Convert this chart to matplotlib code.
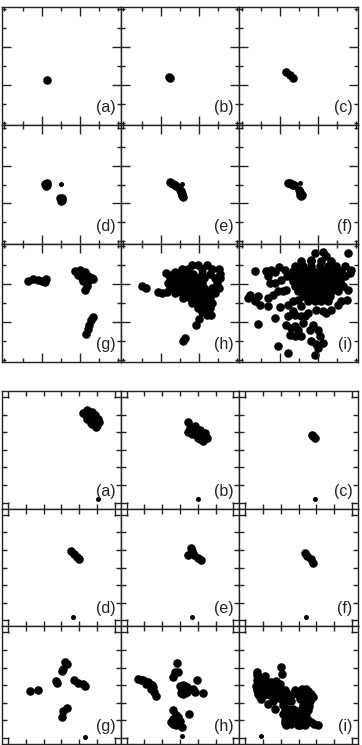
"""Two 3x3 sets of scatter snapshots, panels (a)-(i)

"""

import numpy as np
import matplotlib.pyplot as plt

plt.rcParams['font.family'] = ['Liberation Sans', 'DejaVu Sans']

labels = ['(a)', '(b)', '(c)', '(d)', '(e)', '(f)', '(g)', '(h)', '(i)']

# ---- upper set ----
up_a = [(-0.77, -0.73)]
up_b = [(-0.58, -0.56), (-0.54, -0.60)]
up_c = [(-0.68, -0.29), (-0.46, -0.46), (-0.28, -0.65)]
up_d = [(-0.85, 0.05), (-0.75, -0.05), (-0.82, -0.08), (-0.76, 0.07),
        (-0.05, -0.72), (0.05, -0.82), (0.02, -0.70), (-0.03, -0.85)]
up_e = [(-0.52, 0.14), (-0.35, 0.05), (-0.22, -0.09), (0.0, -0.27),
        (0.06, -0.39), (0.09, -0.48), (0.18, -0.65), (-0.45, 0.10),
        (-0.28, 0.0), (0.04, -0.33), (0.13, -0.55), (0.08, -0.58)]
up_f = [(-0.56, 0.10), (-0.39, 0.05), (-0.24, -0.04), (0.02, -0.30),
        (0.11, -0.48), (0.14, -0.62), (-0.48, 0.08), (-0.30, 0.0),
        (0.06, -0.40), (0.16, -0.55), (0.08, -0.55)]
up_g = [(-1.74, 1.14), (-1.47, 1.26), (-1.24, 1.23), (-1.03, 1.14),
        (-0.80, 1.26), (-0.86, 1.08),
        (0.73, 1.67), (0.99, 1.75), (1.25, 1.61), (1.43, 1.40), (1.69, 1.26),
        (1.16, 1.14), (1.34, 0.87), (1.25, 0.70), (0.90, 1.49), (1.08, 1.31),
        (1.38, 1.14), (1.60, 1.31), (0.81, 1.61), (1.16, 1.58),
        (1.66, -0.74), (1.55, -0.92), (1.48, -1.15), (1.43, -1.38),
        (1.31, -1.67)]
up_h = [(-2.02, 0.91), (-1.81, 0.77), (-1.17, 0.56), (-0.93, 0.52),
        (-0.68, 0.56), (-0.75, 1.58), (-0.26, 1.61),
        (0.18, -2.03), (0.27, -1.85), (0.83, -1.15), (1.01, -0.85),
        (1.41, -0.62), (1.64, -0.62),
        (0.62, 2.02), (0.97, 2.02), (1.41, 2.02),
        (0.09, 1.79), (0.44, 1.79), (1.15, 1.79), (1.68, 1.79), (2.03, 1.79),
        (-0.35, 1.54), (0.01, 1.54), (0.36, 1.54), (0.71, 1.54), (1.15, 1.54),
        (1.59, 1.54), (2.11, 1.54),
        (-0.52, 1.30), (-0.17, 1.30), (0.18, 1.30), (0.53, 1.30), (0.88, 1.30),
        (1.24, 1.30), (1.85, 1.30), (2.11, 1.30),
        (-0.61, 1.05), (-0.26, 1.05), (0.09, 1.05), (0.44, 1.05), (0.80, 1.05),
        (1.15, 1.05), (1.94, 1.05),
        (-0.52, 0.79), (-0.17, 0.79), (0.18, 0.79), (0.53, 0.79), (0.88, 0.79),
        (1.24, 0.79), (1.68, 0.79), (2.03, 0.79),
        (-0.26, 0.52), (0.09, 0.52), (0.44, 0.52), (0.80, 0.52), (1.15, 0.52),
        (1.50, 0.52), (1.85, 0.52),
        (0.18, 0.26), (0.53, 0.26), (0.88, 0.26), (1.24, 0.26), (1.59, 0.26),
        (0.62, 0.0), (0.97, 0.0), (1.32, 0.0), (1.68, 0.0),
        (0.97, -0.27), (1.24, -0.27), (1.59, -0.27),
        (1.15, -0.50), (1.36, -0.50)]
up_i = [(0.14, 2.19), (0.67, 2.19), (1.20, 2.19), (1.72, 2.19),
        (-0.21, 1.93), (0.23, 1.93), (0.67, 1.93), (1.11, 1.93), (1.55, 1.93),
        (1.99, 1.93), (2.43, 1.93),
        (-0.30, 1.67), (0.05, 1.67), (0.41, 1.67), (0.76, 1.67), (1.11, 1.67),
        (1.46, 1.67), (1.81, 1.67), (2.25, 1.67),
        (-0.39, 1.40), (-0.03, 1.40), (0.32, 1.40), (0.67, 1.40), (1.02, 1.40),
        (1.37, 1.40), (1.72, 1.40), (2.08, 1.40), (2.43, 1.40),
        (-0.30, 1.14), (0.05, 1.14), (0.41, 1.14), (0.76, 1.14), (1.11, 1.14),
        (1.46, 1.14), (1.81, 1.14), (2.16, 1.14),
        (-0.21, 0.87), (0.14, 0.87), (0.49, 0.87), (0.85, 0.87), (1.20, 0.87),
        (1.55, 0.87), (1.90, 0.87), (2.34, 0.87),
        (-0.03, 0.61), (0.32, 0.61), (0.67, 0.61), (1.02, 0.61), (1.37, 0.61),
        (1.72, 0.61), (2.08, 0.61),
        (0.23, 0.35), (0.58, 0.35), (0.93, 0.35), (1.28, 0.35), (1.64, 0.35),
        (0.49, 0.08), (0.85, 0.08), (1.20, 0.08), (1.55, 0.08),
        (0.85, 2.63), (1.28, 2.67), (1.46, 2.46), (2.60, 2.63), (0.67, 2.28),
        (-2.32, 1.67), (-1.70, 1.67), (-1.48, 1.72), (-1.26, 1.61), (-1.05, 1.89),
        (-1.62, 1.40), (-1.53, 1.05), (-1.26, 1.05), (-0.91, 1.23), (-0.60, 1.40),
        (-0.74, 1.75), (-2.58, 0.43), (-2.67, 0.26), (-2.32, 0.08), (-2.06, -0.09),
        (-2.14, 0.35), (-1.62, 0.26), (-1.35, 0.43), (-1.09, 0.61), (-0.82, 0.61),
        (-0.65, 0.70), (-1.62, -0.18), (-1.00, -0.22), (-0.56, -0.09),
        (-0.30, 0.08), (-0.03, 0.17), (0.14, -0.18), (-0.30, -0.44),
        (-0.56, -0.71), (-0.21, -0.62), (0.14, -0.71), (-1.26, -0.80),
        (-2.14, -1.11), (-0.65, -1.15), (-0.39, -1.32), (-0.21, -1.24),
        (-0.03, -1.41), (-0.47, -1.68), (-0.21, -1.76), (0.14, -1.76),
        (0.58, -1.41), (0.76, -1.15), (1.02, -1.41), (1.11, -1.76),
        (0.93, -0.36), (1.28, -0.44), (1.46, -0.53), (1.72, -0.36), (2.08, -0.09),
        (2.25, 0.08), (2.52, 0.17), (2.60, 0.70), (2.74, 1.75), (2.69, 1.58),
        (0.67, -2.03), (0.93, -2.20), (1.28, -2.11), (1.02, -2.38),
        (-1.09, -2.29), (-0.56, -2.64), (0.85, -2.78), (0.23, -1.06),
        (0.32, -0.71), (0.49, -0.53)]
# small single dots in (d), (e), (f)
up_small = {3: (-0.01, 0.05), 4: (0.09, 0.05), 5: (0.09, 0.08)}

# ---- lower set ----
lo_a = [(1.24, 2.08), (1.46, 2.23), (1.71, 2.17), (1.89, 1.98), (2.08, 1.74),
        (2.14, 1.55), (1.95, 1.29), (1.65, 1.52), (1.46, 1.74), (1.76, 1.74),
        (1.52, 1.98), (1.35, 2.05), (1.60, 2.05), (1.80, 1.85), (1.60, 1.70),
        (1.90, 1.55), (2.00, 1.40), (1.75, 1.45)]
lo_b = [(0.47, 1.55), (0.56, 1.23), (0.47, 0.99), (0.85, 1.33), (1.13, 1.14),
        (0.85, 0.91), (1.22, 0.77), (1.50, 0.67), (1.31, 0.48), (1.03, 0.67),
        (0.75, 1.14), (1.41, 0.95), (0.60, 1.05), (0.70, 1.25), (0.95, 1.05),
        (1.05, 0.85), (1.20, 0.95), (1.35, 0.65), (0.65, 0.90), (1.10, 0.60),
        (1.40, 0.80)]
lo_c = [(0.76, 0.86), (0.91, 0.67), (0.83, 0.77)]
lo_d = [(0.53, 0.93), (0.71, 0.78), (0.90, 0.62), (1.01, 0.50)]
lo_e = [(0.62, 1.12), (0.66, 0.93), (0.47, 0.71), (0.81, 0.69), (1.03, 0.56),
        (1.18, 0.43)]
lo_f = [(0.34, 0.80), (0.49, 0.65), (0.68, 0.46), (0.83, 0.28)]
lo_g = [(0.21, 1.29), (0.30, 1.20), (0.02, 0.82), (0.11, 0.91), (-0.30, 0.26),
        (-0.23, 0.13), (0.71, 0.30), (0.96, 0.13), (1.24, 0.07), (1.33, -0.02),
        (-1.76, -0.31), (-1.29, -0.25), (0.30, -1.30), (0.11, -1.49),
        (0.02, -1.80)]
lo_h = [(-2.34, 0.35), (-2.06, 0.30), (-1.78, 0.20), (-1.56, 0.01),
        (-1.37, -0.62), (-1.63, -0.21), (-1.93, 0.07),
        (-2.20, 0.30), (-1.90, 0.20), (-1.70, 0.05), (-1.50, -0.10),
        (-1.45, -0.40),
        (-0.19, 1.23), (-0.28, 0.76), (-0.09, 0.73), (-0.37, 0.45),
        (0.00, -0.02), (0.19, 0.02), (0.38, -0.12), (0.10, -0.30), (0.38, -0.40),
        (0.19, -0.49), (0.75, -0.21), (0.94, 0.31), (1.31, -0.44), (0.85, -0.36),
        (0.10, -0.10), (0.28, -0.05), (0.28, -0.25), (0.05, -0.45),
        (0.30, -0.45), (0.45, -0.28), (0.15, -0.20),
        (-0.37, -1.43), (-0.24, -1.71), (-0.51, -2.09), (-0.24, -2.24),
        (0.00, -2.05), (-0.09, -1.81), (0.10, -2.37), (0.51, -1.62),
        (-0.40, -1.90), (-0.30, -2.05), (-0.15, -2.15), (-0.10, -2.00),
        (-0.40, -2.20)]
lo_i = [(-2.32, 0.76), (-2.28, 0.45), (-2.38, -0.02), (-2.28, -0.49),
        (-2.09, 0.16), (-1.81, 0.26), (-1.53, 0.16), (-1.25, 0.26), (-0.97, 1.01),
        (-0.93, 0.63), (-1.06, 0.07), (-2.09, -0.77), (-1.72, -1.05),
        (-1.34, -1.34), (-0.78, -0.30), (-0.60, -0.49), (-0.22, -0.30),
        (0.16, -0.21), (0.44, -0.21), (0.72, -0.49), (0.62, -0.87), (0.25, -1.15),
        (0.06, -0.77), (-0.41, -0.87), (-0.88, -1.15), (-0.88, -1.62),
        (-0.78, -1.99), (-0.41, -2.18), (-0.03, -2.27), (0.34, -2.24),
        (0.25, -1.90), (0.44, -1.80), (0.72, -2.09), (1.09, -2.24), (-0.60, -1.71),
        (-0.22, -1.90), (-0.31, -1.34), (-2.00, -0.30), (-1.72, -0.12),
        (-1.44, -0.21), (-1.25, -0.44), (-0.97, -0.77), (-2.19, -0.12),
        (-1.91, 0.54), (-1.63, -0.30), (-1.34, -0.68), (-0.69, -0.87),
        (-0.60, -1.34), (-0.13, -1.62), (0.16, -1.62), (0.06, -1.99),
        (-0.31, -2.09), (-0.69, -2.27), (0.53, -1.43), (0.81, -0.68),
        (-2.35, 0.60), (-2.35, 0.30), (-2.30, 0.10), (-2.20, -0.30),
        (-2.35, -0.25), (-2.20, -0.65), (-1.95, -0.55), (-2.05, 0.00),
        (-1.85, -0.15), (-1.65, 0.05), (-1.40, 0.00), (-1.15, -0.20),
        (-2.10, 0.40), (-1.95, 0.35), (-1.60, -0.55), (-1.45, -0.90),
        (-1.15, -0.65), (-0.95, -0.45), (-0.45, -0.55), (-0.10, -0.50),
        (0.30, -0.45), (0.50, -0.55), (0.55, -0.35), (0.40, -0.75),
        (0.45, -1.00), (0.20, -1.35), (0.60, -1.20),
        (-0.75, -1.40), (-0.50, -1.50), (-0.45, -1.85), (-0.60, -2.05),
        (-0.20, -2.10), (0.00, -1.80), (0.20, -2.05), (0.40, -1.60),
        (0.55, -1.95), (0.85, -2.20), (-0.10, -1.45), (0.30, -1.75),
        (-0.75, -2.15), (0.10, -2.25)]
# small single dot near the bottom of every lower panel
lo_small = [(2.08, -2.80), (1.03, -2.80), (0.91, -2.80), (0.68, -2.82),
            (0.66, -2.82), (0.40, -2.82), (1.33, -2.93), (0.13, -2.87),
            (-2.09, -2.89)]


def drawPanel(ax, pts, label, lim, major, minor, lmaj, lmin):
    """One square panel: black dots, ticks on all sides, corner label"""
    pts = np.array(pts)
    ax.scatter(pts[:, 0], pts[:, 1], s=38, c='black', linewidths=0)
    ax.set_xlim(-lim, lim)
    ax.set_ylim(-lim, lim)
    ax.set_xticks(major)
    ax.set_yticks(major)
    ax.set_xticks(minor, minor=True)
    ax.set_yticks(minor, minor=True)
    ax.tick_params(which='both', direction='in', top=True, right=True,
                   labelbottom=False, labelleft=False, width=1.0,
                   color='#222222')
    ax.tick_params(which='major', length=lmaj)
    ax.tick_params(which='minor', length=lmin)
    for sp in ax.spines.values():
        sp.set_linewidth(1.0)
        sp.set_color('#222222')
    ax.text(0.955, 0.085, label, transform=ax.transAxes, ha='right',
            va='bottom', fontsize=11.5, color='#222222')


def main():
    fig = plt.figure(figsize=(3.62, 7.45), dpi=100)
    gs_up = fig.add_gridspec(3, 3, left=2/362, right=358/362, top=1-7/745,
                             bottom=1-362/745, wspace=0, hspace=0)
    gs_lo = fig.add_gridspec(3, 3, left=2/362, right=358/362, top=1-391/745,
                             bottom=1/745, wspace=0, hspace=0)

    upper = [up_a, up_b, up_c, up_d, up_e, up_f, up_g, up_h, up_i]
    lower = [lo_a, lo_b, lo_c, lo_d, lo_e, lo_f, lo_g, lo_h, lo_i]

    for n in range(9):
        ax = fig.add_subplot(gs_up[n // 3, n % 3])
        drawPanel(ax, upper[n], labels[n], 3.125, [-1, 1], [-3, -2, 0, 2, 3],
                  6.5, 3.0)
        if n in up_small:
            sx, sy = up_small[n]
            ax.scatter([sx], [sy], s=13, c='black', linewidths=0)

    for n in range(9):
        ax = fig.add_subplot(gs_lo[n // 3, n % 3])
        drawPanel(ax, lower[n], labels[n], 3.333, [-3, 3], [-2, -1, 0, 1, 2],
                  5.0, 3.6)
        sx, sy = lo_small[n]
        ax.scatter([sx], [sy], s=13, c='black', linewidths=0)

    fig.savefig('out.png', dpi=100)


if __name__ == '__main__':
    main()
